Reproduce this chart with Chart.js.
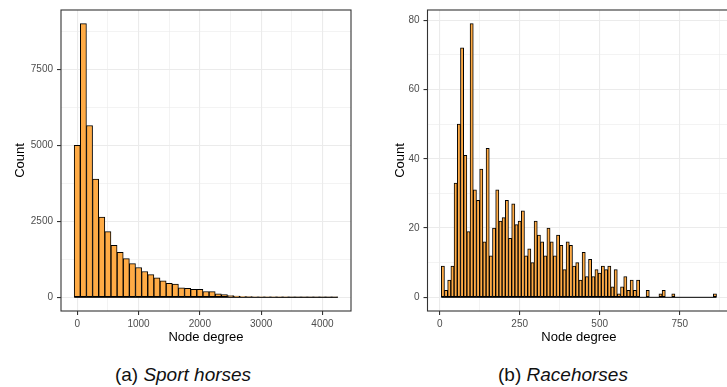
<!DOCTYPE html>
<html>
<head>
<meta charset="utf-8">
<script src="https://cdn.jsdelivr.net/npm/chart.js@4/dist/chart.umd.min.js"></script>
<style>
  html, body { margin: 0; padding: 0; background: #ffffff; overflow: hidden; }
  body { width: 727px; height: 387px; position: relative; }
  canvas { position: absolute; top: 0; }
  #sport { left: 0px; }
  #race { left: 380px; }
  .caption {
    position: absolute; top: 363px; width: 240px; text-align: center;
    font-family: "Liberation Sans", Arial, sans-serif; font-size: 19px; color: #111;
    white-space: nowrap; line-height: 24px;
  }
  .caption i { font-style: italic; }
</style>
</head>
<body>
<canvas id="sport" width="360" height="345"></canvas>
<canvas id="race" width="360" height="345"></canvas>
<div class="caption" id="capA" style="left:63px;">(a) <i>Sport horses</i></div>
<div class="caption" id="capB" style="left:443px;">(b) <i>Racehorses</i></div>

<script>
// Sport horses: degree histogram, bins of width 100 centred on 0, 100, ... 4200
const sportBinStart = 0;
const sportBinWidth = 100;
const sportCounts = [
  5000, 9000, 5650, 3885, 2635, 2160, 1710, 1480, 1275, 1110,
  980, 850, 745, 645, 540, 456, 435, 315, 295, 265,
  262, 192, 185, 112, 92, 58, 40, 28, 22, 17,
  13, 11, 9, 7, 6, 5, 4, 3, 3, 2,
  2, 1, 1
];
const sportXMajor = [0, 1000, 2000, 3000, 4000];
const sportXMinor = [500, 1500, 2500, 3500];
const sportYMajor = [0, 2500, 5000, 7500];
const sportYMinor = [1250, 3750, 6250, 8750];

// Racehorses: degree histogram, bins of width 10 centred on 10, 20, ... 860
const raceBinStart = 10;
const raceBinWidth = 10;
const raceCounts = [
  9, 2, 5, 9, 33, 50, 72, 41, 19, 79,
  31, 28, 37, 16, 43, 12, 20, 31, 22, 23,
  28, 17, 27, 21, 22, 25, 12, 14, 10, 22,
  18, 16, 12, 20, 16, 12, 18, 15, 8, 16,
  15, 9, 10, 5, 13, 6, 11, 6, 8, 7,
  9, 8, 9, 3, 8, 1, 3, 6, 2, 5,
  2, 5, 0, 0, 2, 0, 0, 0, 1, 2,
  0, 0, 1, 0, 0, 0, 0, 0, 0, 0,
  0, 0, 0, 0, 0, 1
];
const raceXMajor = [0, 250, 500, 750];
const raceXMinor = [125, 375, 625, 875];
const raceYMajor = [0, 20, 40, 60, 80];
const raceYMinor = [10, 30, 50, 70];

const BAR_FILL = '#FFAB45';
const BAR_EDGE = '#000000';
const GRID = '#EBEBEB';
const FRAME = '#333333';
const TICK_TEXT = '#4D4D4D';
const FONT = '"Liberation Sans", Arial, sans-serif';

// frame around the plotting panel
const panelFrame = {
  id: 'panelFrame',
  afterDraw(chart) {
    const {ctx, chartArea: a} = chart;
    ctx.save();
    ctx.strokeStyle = FRAME;
    ctx.lineWidth = 1.1;
    ctx.strokeRect(a.left, a.top, a.right - a.left, a.bottom - a.top);
    ctx.restore();
  }
};

// outline along the zero line under the whole span of bins (empty bins show as a flat edge)
const binBaseline = {
  id: 'binBaseline',
  afterDatasetsDraw(chart, args, opts) {
    const {ctx, scales: {x, y}} = chart;
    const half = opts.width / 2;
    const x0 = x.getPixelForValue(opts.first - half);
    const x1 = x.getPixelForValue(opts.last + half);
    const y0 = y.getPixelForValue(0);
    ctx.save();
    ctx.strokeStyle = BAR_EDGE;
    ctx.lineWidth = 1;
    ctx.beginPath();
    ctx.moveTo(x0, y0);
    ctx.lineTo(x1, y0);
    ctx.stroke();
    ctx.restore();
  }
};

function histPoints(start, width, counts) {
  return counts.map((c, i) => ({x: start + i * width, y: c}));
}

function axis(opts) {
  const majors = opts.major;
  const all = majors.concat(opts.minor).sort((a, b) => a - b);
  const isMajor = v => majors.indexOf(v) !== -1;
  return {
    type: 'linear',
    position: opts.position,
    min: opts.min,
    max: opts.max,
    offset: false,
    afterBuildTicks(scale) { scale.ticks = all.map(v => ({value: v})); },
    afterFit(scale) {
      if (opts.position === 'left') scale.width = opts.size; else scale.height = opts.size;
    },
    border: {display: false},
    grid: {
      offset: false,
      color: GRID,
      lineWidth: ctx => (ctx.tick && isMajor(ctx.tick.value)) ? 1.1 : 0.6,
      drawTicks: true,
      tickLength: 4,
      tickColor: ctx => (ctx.tick && isMajor(ctx.tick.value)) ? FRAME : 'rgba(0,0,0,0)',
      tickWidth: 1.1
    },
    ticks: {
      autoSkip: false,
      maxRotation: 0,
      color: TICK_TEXT,
      font: {family: FONT, size: 10},
      padding: opts.position === 'left' ? 4 : 3,
      callback: v => isMajor(v) ? String(v) : ''
    },
    title: {
      display: true,
      text: opts.title,
      color: '#000000',
      font: {family: FONT, size: 13},
      padding: opts.position === 'left' ? {top: 12.2, bottom: 0} : {top: 0, bottom: 0}
    }
  };
}

function histogram(canvasId, start, width, counts, cfg) {
  return new Chart(document.getElementById(canvasId), {
    type: 'bar',
    data: {
      datasets: [{
        data: histPoints(start, width, counts),
        backgroundColor: BAR_FILL,
        borderColor: BAR_EDGE,
        borderWidth: 1,
        borderSkipped: false,
        barPercentage: 1,
        categoryPercentage: 1
      }]
    },
    options: {
      responsive: false,
      animation: false,
      devicePixelRatio: 1,
      layout: {padding: cfg.padding},
      plugins: {
        legend: {display: false},
        tooltip: {enabled: false},
        binBaseline: {first: start, last: start + (counts.length - 1) * width, width: width}
      },
      scales: {
        x: axis({position: 'bottom', min: cfg.xMin, max: cfg.xMax, major: cfg.xMajor,
                 minor: cfg.xMinor, size: 34, title: 'Node degree'}),
        y: axis({position: 'left', min: cfg.yMin, max: cfg.yMax, major: cfg.yMajor,
                 minor: cfg.yMinor, size: cfg.yWidth, title: 'Count'})
      }
    },
    plugins: [binBaseline, panelFrame]
  });
}

histogram('sport', sportBinStart, sportBinWidth, sportCounts, {
  padding: {top: 7, right: 9, left: 0, bottom: 0},
  xMin: -265, xMax: 4465, xMajor: sportXMajor, xMinor: sportXMinor,
  yMin: -450, yMax: 9450, yMajor: sportYMajor, yMinor: sportYMinor,
  yWidth: 61
});

histogram('race', raceBinStart, raceBinWidth, raceCounts, {
  padding: {top: 7, right: 9.7, left: 0, bottom: 0},
  xMin: -38, xMax: 908, xMajor: raceXMajor, xMinor: raceXMinor,
  yMin: -3.95, yMax: 82.95, yMajor: raceYMajor, yMinor: raceYMinor,
  yWidth: 47.5
});
</script>
</body>
</html>
